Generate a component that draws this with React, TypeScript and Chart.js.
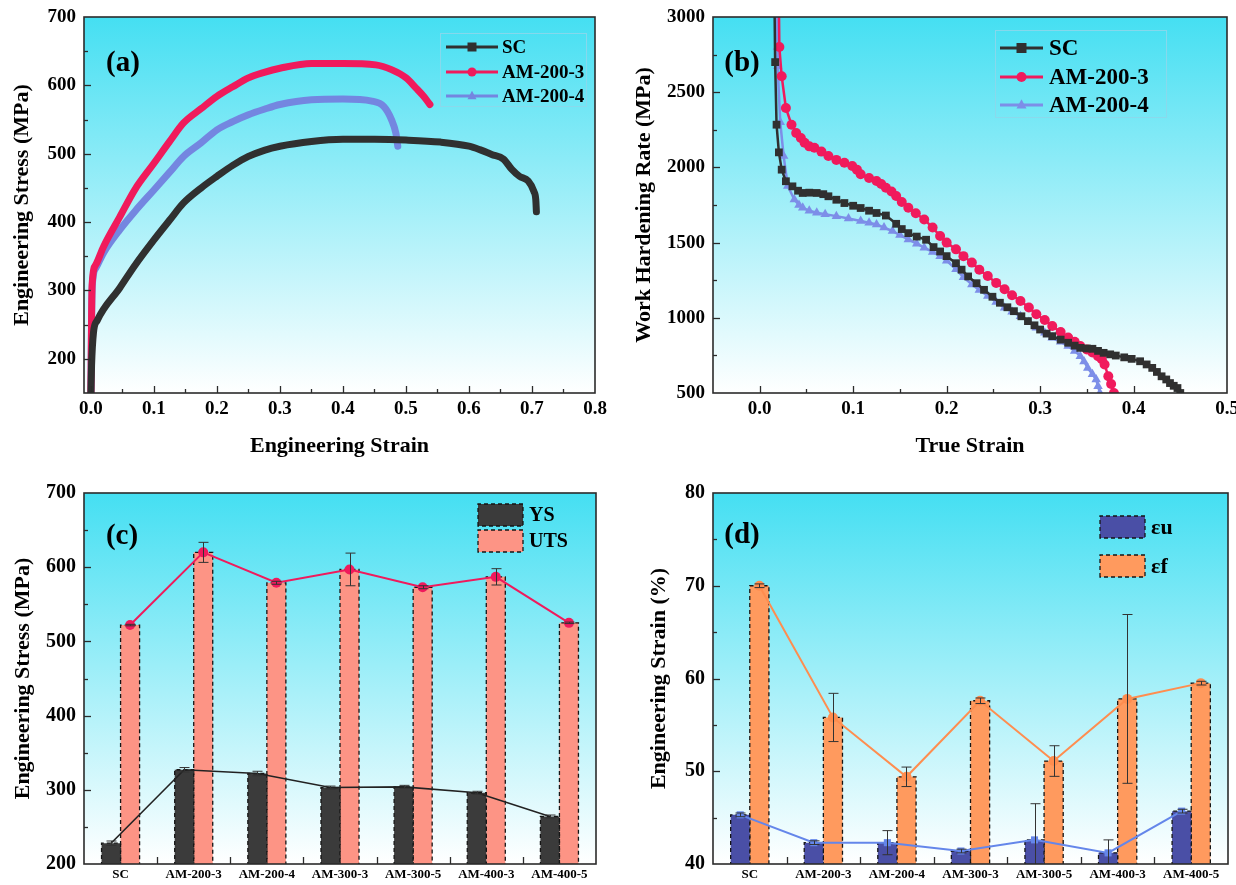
import React, { useEffect, useRef } from 'react';
import { Chart, registerables } from 'chart.js';

Chart.register(...registerables);

const SERIF = "'Liberation Serif', 'Times New Roman', serif";

type Pt = [number, number];

// ---------- (a) engineering stress–strain curves: [strain, stress (MPa)] ----------
const scCurveA: Pt[] = [
  [0.0, 150], [0.001, 190], [0.004, 238], [0.01, 256], [0.046, 304], [0.07, 337],
  [0.1, 374], [0.125, 403], [0.147, 428], [0.175, 450], [0.2, 467], [0.225, 483], [0.25, 496],
  [0.275, 505], [0.3, 511], [0.35, 518], [0.4, 521], [0.45, 521], [0.5, 520], [0.555, 517],
  [0.6, 511], [0.617, 506], [0.636, 499], [0.655, 492], [0.668, 477], [0.68, 467], [0.694, 460],
  [0.703, 445], [0.706, 433], [0.707, 415],
];
const am2003CurveA: Pt[] = [
  [0.0, 150], [0.001, 260], [0.002, 310], [0.008, 338], [0.02, 364], [0.046, 408], [0.07, 448],
  [0.1, 486], [0.125, 518], [0.147, 545], [0.175, 566], [0.2, 584], [0.225, 598], [0.25, 611],
  [0.275, 619], [0.3, 625], [0.35, 632], [0.4, 632], [0.452, 630], [0.477, 623], [0.5, 611],
  [0.516, 596], [0.528, 584], [0.538, 572],
];
const am2004CurveA: Pt[] = [
  [0.0, 150], [0.001, 255], [0.002, 305], [0.008, 333], [0.02, 355], [0.046, 389], [0.07, 416],
  [0.1, 447], [0.125, 473], [0.147, 496], [0.175, 516], [0.2, 535], [0.225, 547], [0.25, 557],
  [0.275, 565], [0.3, 572], [0.35, 579], [0.4, 580], [0.446, 577], [0.465, 569], [0.477, 550],
  [0.484, 530], [0.487, 511],
];
const strainTicksA = [0, 0.1, 0.2, 0.3, 0.4, 0.5, 0.6, 0.7, 0.8];
const stressTicksA = [200, 300, 400, 500, 600, 700];

// ---------- (b) work hardening rate: [true strain, rate (MPa)] ----------
const scCurveB: Pt[] = [
  [0.0158, 3100], [0.0165, 2700], [0.018, 2284], [0.0205, 2100], [0.0235, 1985], [0.028, 1908],
  [0.035, 1874], [0.041, 1845], [0.046, 1830], [0.053, 1832], [0.061, 1830], [0.068, 1822],
  [0.0735, 1808], [0.082, 1785], [0.0906, 1763], [0.1, 1745], [0.108, 1730], [0.117, 1712],
  [0.125, 1697], [0.135, 1680], [0.146, 1625], [0.152, 1590], [0.159, 1563], [0.168, 1540],
  [0.178, 1519], [0.186, 1470], [0.193, 1441], [0.2, 1410], [0.21, 1363], [0.216, 1320],
  [0.223, 1275], [0.232, 1230], [0.24, 1186], [0.249, 1140], [0.257, 1100], [0.265, 1070],
  [0.272, 1044], [0.28, 1010], [0.287, 978], [0.294, 950], [0.3, 922], [0.307, 895],
  [0.313, 878], [0.322, 855], [0.33, 834], [0.337, 815], [0.343, 800], [0.35, 796],
  [0.356, 794], [0.362, 780], [0.368, 767], [0.375, 757], [0.381, 749], [0.39, 737],
  [0.398, 727], [0.407, 711], [0.414, 690], [0.42, 667], [0.425, 640], [0.43, 611],
  [0.435, 590], [0.439, 566], [0.443, 548], [0.447, 533], [0.45, 500],
];
const am2003CurveB: Pt[] = [
  [0.0205, 3100], [0.021, 2800], [0.0235, 2606], [0.028, 2395], [0.034, 2284], [0.039, 2229],
  [0.044, 2195], [0.048, 2164], [0.053, 2140], [0.0585, 2131], [0.066, 2105], [0.0735, 2076],
  [0.082, 2050], [0.0906, 2031], [0.099, 2009], [0.104, 1985], [0.108, 1954], [0.117, 1930],
  [0.125, 1909], [0.13, 1890], [0.135, 1865], [0.141, 1840], [0.146, 1810], [0.152, 1770],
  [0.159, 1732], [0.167, 1695], [0.176, 1654], [0.185, 1600], [0.193, 1544], [0.2, 1500],
  [0.21, 1455], [0.218, 1410], [0.227, 1367], [0.235, 1320], [0.244, 1278], [0.253, 1232],
  [0.262, 1190], [0.27, 1150], [0.279, 1112], [0.288, 1068], [0.296, 1024], [0.305, 985],
  [0.313, 946], [0.322, 905], [0.33, 869], [0.337, 840], [0.343, 813], [0.35, 790],
  [0.356, 769], [0.362, 745], [0.366, 725], [0.369, 690], [0.373, 611], [0.376, 560],
  [0.379, 500],
];
const am2004CurveB: Pt[] = [
  [0.0185, 3100], [0.019, 2800], [0.0192, 2672], [0.022, 2300], [0.0256, 2075], [0.03, 1876],
  [0.037, 1787], [0.042, 1750], [0.046, 1731], [0.053, 1712], [0.061, 1698], [0.07, 1688],
  [0.082, 1676], [0.095, 1660], [0.108, 1643], [0.117, 1632], [0.125, 1621], [0.133, 1600],
  [0.142, 1577], [0.15, 1550], [0.159, 1521], [0.168, 1493], [0.176, 1466], [0.185, 1438],
  [0.193, 1410], [0.2, 1380], [0.21, 1322], [0.218, 1270], [0.227, 1222], [0.235, 1185],
  [0.244, 1145], [0.253, 1105], [0.262, 1067], [0.27, 1040], [0.279, 1011], [0.288, 972],
  [0.296, 934], [0.305, 900], [0.313, 867], [0.322, 840], [0.33, 812], [0.337, 780],
  [0.343, 745], [0.347, 710], [0.351, 667], [0.356, 625], [0.36, 589], [0.362, 545],
  [0.364, 500],
];
const strainTicksB = [0, 0.1, 0.2, 0.3, 0.4, 0.5];
const rateTicksB = [500, 1000, 1500, 2000, 2500, 3000];

// ---------- (c) yield and ultimate tensile strength ----------
const specimens = ['SC', 'AM-200-3', 'AM-200-4', 'AM-300-3', 'AM-300-5', 'AM-400-3', 'AM-400-5'];
const ysValues = [228, 327, 322, 303, 304, 296, 264];
const ysErrors = [3, 3, 3, 2, 2, 2, 2];
const utsValues = [522, 620, 579, 597, 573, 587, 525];
const utsErrors = [1, 13.5, 2, 22, 2, 11, 1];
const stressTicksC = [200, 300, 400, 500, 600, 700];

// ---------- (d) uniform and fracture elongation (%) ----------
const uniformStrain = [45.3, 42.3, 42.3, 41.4, 42.6, 41.2, 45.7];
const uniformErrors = [0.2, 0.2, 1.3, 0.2, 3.9, 1.4, 0.2];
const fractureStrain = [70.0, 55.8, 49.4, 57.6, 51.1, 57.8, 59.5];
const fractureErrors = [0.2, 2.6, 1.05, 0.3, 1.65, 9.1, 0.2];
const strainTicksD = [40, 50, 60, 70, 80];

// ---------- styling ----------
const C = {
  sc: '#303030',
  pink: '#f01a5c',
  lavender: '#7486e0',
  lavenderB: '#7d8ee8',
  ysBar: '#3b3b3b',
  utsBar: '#fd9485',
  euBar: '#4a4fa6',
  efBar: '#ff9a5e',
  euLine: '#6486ea',
  efLine: '#ff8d4f',
  frame: '#2b2b2b',
  text: '#000000',
};
const CATEGORY_SHARE = 0.52; // fraction of each category taken by the bar pair
const BAR_SHIFT = CATEGORY_SHARE / 4; // centre of each bar relative to its category centre

const font = (size: number) => ({ family: SERIF, size, weight: 'bold' as const });
const midpoints = (v: number[]) => v.slice(1).map((x, i) => (x + v[i]) / 2);
const toXY = (pts: Pt[]) => pts.map(([x, y]) => ({ x, y }));

const fixWidth = (w: number) => (s: any) => {
  s.width = w;
  s.paddingTop = 0; s.paddingBottom = 0; s.paddingLeft = 0; s.paddingRight = 0;
};
const fixHeight = (h: number) => (s: any) => {
  s.height = h;
  s.paddingTop = 0; s.paddingBottom = 0; s.paddingLeft = 0; s.paddingRight = 0;
};
const setTicks = (values: number[]) => (s: any) => {
  s.ticks = values.map((v) => ({ value: v }));
};

function drawMarker(ctx: CanvasRenderingContext2D, style: string, x: number, y: number, r: number, color: string) {
  ctx.fillStyle = color;
  ctx.beginPath();
  if (style === 'rect') {
    ctx.rect(x - r, y - r, 2 * r, 2 * r);
  } else if (style === 'triangle') {
    ctx.moveTo(x, y - r * 1.15);
    ctx.lineTo(x + r, y + r * 0.7);
    ctx.lineTo(x - r, y + r * 0.7);
    ctx.closePath();
  } else {
    ctx.arc(x, y, r, 0, Math.PI * 2);
  }
  ctx.fill();
}

function strokeDashedBar(ctx: CanvasRenderingContext2D, l: number, t: number, r: number, b: number, closed: boolean) {
  ctx.save();
  ctx.setLineDash([4, 3]);
  ctx.lineWidth = 1.3;
  ctx.strokeStyle = '#151515';
  ctx.beginPath();
  ctx.moveTo(l, b);
  ctx.lineTo(l, t);
  ctx.lineTo(r, t);
  ctx.lineTo(r, b);
  if (closed) ctx.closePath();
  ctx.stroke();
  ctx.restore();
}

// Gradient plot background, dashed bar outlines, error bars, inward ticks, panel tag and legend
const panelPlugin = {
  id: 'panel',
  beforeDraw(chart: any) {
    const { ctx, chartArea } = chart;
    const { left, top, right, bottom } = chartArea;
    const g = ctx.createLinearGradient(0, top, 0, bottom);
    g.addColorStop(0, '#45dff2');
    g.addColorStop(1, '#ffffff');
    ctx.save();
    ctx.fillStyle = g;
    ctx.fillRect(left, top, right - left, bottom - top);
    ctx.restore();
  },
  afterDatasetDraw(chart: any, args: any) {
    const ds = chart.data.datasets[args.index];
    if (args.meta.type !== 'bar' || !ds.dashedBorder) return;
    const { ctx, chartArea } = chart;
    ctx.save();
    ctx.beginPath();
    ctx.rect(chartArea.left, chartArea.top, chartArea.right - chartArea.left, chartArea.bottom - chartArea.top);
    ctx.clip();
    for (const el of args.meta.data) {
      const { x, y, width } = el.getProps(['x', 'y', 'width'], true);
      strokeDashedBar(ctx, x - width / 2, y, x + width / 2, chartArea.bottom + 2, false);
    }
    ctx.restore();
  },
  afterDatasetsDraw(chart: any, _args: any, opts: any) {
    if (!opts.errorBars) return;
    const { ctx, chartArea } = chart;
    const yScale = chart.scales.y;
    ctx.save();
    ctx.beginPath();
    ctx.rect(chartArea.left, chartArea.top, chartArea.right - chartArea.left, chartArea.bottom - chartArea.top);
    ctx.clip();
    ctx.strokeStyle = '#333333';
    ctx.lineWidth = 1;
    for (const eb of opts.errorBars) {
      const meta = chart.getDatasetMeta(eb.dataset);
      meta.data.forEach((el: any, i: number) => {
        const v = eb.values[i];
        const e = eb.errors[i];
        const x = Math.round(el.x) + 0.5;
        const hi = yScale.getPixelForValue(v + e);
        const lo = yScale.getPixelForValue(v - e);
        ctx.beginPath();
        ctx.moveTo(x, hi); ctx.lineTo(x, lo);
        ctx.moveTo(x - 5, hi); ctx.lineTo(x + 5, hi);
        ctx.moveTo(x - 5, lo); ctx.lineTo(x + 5, lo);
        ctx.stroke();
      });
    }
    ctx.restore();
  },
  afterDraw(chart: any, _args: any, opts: any) {
    const { ctx, chartArea } = chart;
    const { left, top, right, bottom } = chartArea;
    ctx.save();
    // frame
    ctx.strokeStyle = C.frame;
    ctx.lineWidth = 1.6;
    ctx.strokeRect(left, top, right - left, bottom - top);
    // inward ticks
    ctx.lineWidth = 1.3;
    const xs = chart.scales.x;
    const ys = chart.scales.y;
    const tickX = (vals: number[], len: number) => vals.forEach((v) => {
      const px = Math.round(xs.getPixelForValue(v)) + 0.5;
      if (px <= left + 1 || px >= right - 1) return;
      ctx.beginPath(); ctx.moveTo(px, bottom); ctx.lineTo(px, bottom - len); ctx.stroke();
    });
    const tickY = (vals: number[], len: number) => vals.forEach((v) => {
      const py = Math.round(ys.getPixelForValue(v)) + 0.5;
      if (py <= top + 1 || py >= bottom - 1) return;
      ctx.beginPath(); ctx.moveTo(left, py); ctx.lineTo(left + len, py); ctx.stroke();
    });
    tickX(opts.xMajor || [], 7);
    tickX(opts.xMinor || [], 4);
    tickY(opts.yMajor || [], 7);
    tickY(opts.yMinor || [], 4);

    // panel tag
    ctx.fillStyle = C.text;
    ctx.font = `bold 29px ${SERIF}`;
    ctx.textAlign = 'center';
    ctx.textBaseline = 'middle';
    ctx.fillText(opts.tag, opts.tagX, opts.tagY);

    // legend
    const lg = opts.legend;
    if (lg) {
      if (lg.frame) {
        const [fx, fy, fw, fh] = lg.frame;
        ctx.strokeStyle = 'rgba(140, 215, 235, 0.9)';
        ctx.lineWidth = 1;
        ctx.strokeRect(fx + 0.5, fy + 0.5, fw, fh);
      }
      lg.items.forEach((di: number, k: number) => {
        const ds = chart.data.datasets[di];
        const y = lg.rows[k];
        if (lg.kind === 'line') {
          ctx.strokeStyle = ds.borderColor;
          ctx.lineWidth = 3;
          ctx.beginPath(); ctx.moveTo(lg.x0, y); ctx.lineTo(lg.x1, y); ctx.stroke();
          drawMarker(ctx, ds.pointStyle || 'circle', (lg.x0 + lg.x1) / 2, y, lg.markerR, ds.borderColor);
        } else {
          const h = lg.boxH;
          ctx.fillStyle = ds.backgroundColor;
          ctx.fillRect(lg.x0, y - h / 2, lg.x1 - lg.x0, h);
          strokeDashedBar(ctx, lg.x0, y - h / 2, lg.x1, y + h / 2, true);
        }
        ctx.fillStyle = C.text;
        ctx.font = `bold ${lg.fontSize}px ${SERIF}`;
        ctx.textAlign = 'left';
        ctx.textBaseline = 'middle';
        ctx.fillText(ds.label, lg.textX, y + 1);
      });
    }
    ctx.restore();
  },
};

interface Geom { w: number; h: number; left: number; right: number; top: number; bottom: number }

function baseOptions(g: Geom) {
  return {
    responsive: false,
    animation: false,
    events: [],
    layout: { padding: { left: 0, top: g.top, right: g.w - g.right, bottom: 0 } },
  };
}

function axisCommon() {
  return {
    grid: { display: false, drawTicks: false },
    border: { display: false },
  };
}

function curveDataset(label: string, pts: Pt[], color: string, style: string, width: number, radius: number, smooth: boolean) {
  return {
    label,
    data: toXY(pts),
    borderColor: color,
    backgroundColor: color,
    pointBackgroundColor: color,
    pointBorderColor: color,
    pointBorderWidth: 0,
    pointStyle: style,
    pointRadius: radius,
    borderWidth: width,
    borderJoinStyle: 'round',
    borderCapStyle: 'round',
    cubicInterpolationMode: smooth ? 'monotone' : 'default',
    clip: 0,
  };
}

const plainNumber = (v: any) => String(Math.round(Number(v)));

function configA() {
  const g: Geom = { w: 618, h: 460, left: 84, right: 595, top: 17, bottom: 393 };
  return {
    type: 'line',
    data: {
      datasets: [
        curveDataset('SC', scCurveA, C.sc, 'rect', 7, 0, true),
        curveDataset('AM-200-3', am2003CurveA, C.pink, 'circle', 7, 0, true),
        curveDataset('AM-200-4', am2004CurveA, C.lavender, 'triangle', 7, 0, true),
      ],
    },
    options: {
      ...baseOptions(g),
      scales: {
        x: {
          ...axisCommon(), type: 'linear', min: -0.011, max: 0.8, offset: false, bounds: 'data',
          afterBuildTicks: setTicks(strainTicksA), afterFit: fixHeight(g.h - g.bottom),
          ticks: { font: font(19), color: C.text, padding: 5, maxRotation: 0, autoSkip: false, callback: (v: any) => Number(v).toFixed(1) },
          title: { display: true, text: 'Engineering Strain', font: font(22), color: C.text, padding: { top: 0, bottom: 0 } },
        },
        y: {
          ...axisCommon(), type: 'linear', min: 150, max: 700,
          afterBuildTicks: setTicks(stressTicksA), afterFit: fixWidth(g.left),
          ticks: { font: font(19), color: C.text, padding: 8, callback: plainNumber },
          title: { display: true, text: 'Engineering Stress (MPa)', font: font(22), color: C.text, padding: { top: 9, bottom: 0 } },
        },
      },
      plugins: {
        legend: { display: false },
        tooltip: { enabled: false },
        panel: {
          tag: '(a)', tagX: 123, tagY: 64,
          xMajor: strainTicksA, xMinor: midpoints(strainTicksA),
          yMajor: stressTicksA, yMinor: midpoints(stressTicksA),
          legend: { kind: 'line', items: [0, 1, 2], rows: [47, 72, 96], x0: 446, x1: 498, textX: 502, fontSize: 19, markerR: 4.5, frame: [440, 33, 146, 73] },
        },
      },
    },
    plugins: [panelPlugin],
  };
}

function configB() {
  const g: Geom = { w: 618, h: 460, left: 95, right: 609, top: 17, bottom: 393 };
  return {
    type: 'line',
    data: {
      datasets: [
        curveDataset('SC', scCurveB, C.sc, 'rect', 2.5, 5.5, false),
        curveDataset('AM-200-3', am2003CurveB, C.pink, 'circle', 2.5, 5, false),
        curveDataset('AM-200-4', am2004CurveB, C.lavenderB, 'triangle', 2.5, 5.5, false),
      ],
    },
    options: {
      ...baseOptions(g),
      scales: {
        x: {
          ...axisCommon(), type: 'linear', min: -0.05, max: 0.5, offset: false, bounds: 'data',
          afterBuildTicks: setTicks(strainTicksB), afterFit: fixHeight(g.h - g.bottom),
          ticks: { font: font(19), color: C.text, padding: 5, maxRotation: 0, autoSkip: false, callback: (v: any) => Number(v).toFixed(1) },
          title: { display: true, text: 'True Strain', font: font(22), color: C.text, padding: { top: 0, bottom: 0 } },
        },
        y: {
          ...axisCommon(), type: 'linear', min: 500, max: 3000,
          afterBuildTicks: setTicks(rateTicksB), afterFit: fixWidth(g.left),
          ticks: { font: font(19), color: C.text, padding: 8, callback: plainNumber },
          title: { display: true, text: 'Work Hardening Rate (MPa)', font: font(22), color: C.text, padding: { top: 13, bottom: 0 } },
        },
      },
      plugins: {
        legend: { display: false },
        tooltip: { enabled: false },
        panel: {
          tag: '(b)', tagX: 124, tagY: 64,
          xMajor: strainTicksB, xMinor: midpoints(strainTicksB),
          yMajor: rateTicksB, yMinor: midpoints(rateTicksB),
          legend: { kind: 'line', items: [0, 1, 2], rows: [48, 77, 105], x0: 382, x1: 425, textX: 431, fontSize: 23, markerR: 5, frame: [377, 30, 171, 87] },
        },
      },
    },
    plugins: [panelPlugin],
  };
}

function barPanelConfig(opts: {
  lowValues: number[]; lowErrors: number[]; lowLabel: string; lowBar: string; lowLine: string; lowStyle: string; lowRadius: number; lowWidth: number;
  highValues: number[]; highErrors: number[]; highLabel: string; highBar: string; highLine: string;
  yMin: number; yMax: number; yTicks: number[]; yTitle: string; titlePad: number;
  geom: Geom; tag: string; tagX: number; tagY: number; legendRows: number[]; legendX: [number, number]; legendText: number;
}) {
  const g = opts.geom;
  const n = specimens.length;
  const positions = specimens.map((_, i) => i);
  return {
    type: 'bar',
    data: {
      datasets: [
        {
          type: 'line', label: opts.lowLabel, order: 0,
          data: opts.lowValues.map((v, i) => ({ x: i - BAR_SHIFT, y: v })),
          borderColor: opts.lowLine, borderWidth: opts.lowWidth,
          pointStyle: opts.lowStyle, pointRadius: opts.lowRadius, pointBorderWidth: 0,
          pointBackgroundColor: opts.lowLine, pointBorderColor: opts.lowLine,
        },
        {
          type: 'line', label: opts.highLabel, order: 0,
          data: opts.highValues.map((v, i) => ({ x: i + BAR_SHIFT, y: v })),
          borderColor: opts.highLine, borderWidth: 2,
          pointStyle: 'circle', pointRadius: 5, pointBorderWidth: 0,
          pointBackgroundColor: opts.highLine, pointBorderColor: opts.highLine,
        },
        {
          type: 'bar', label: opts.lowLabel, order: 1,
          data: opts.lowValues.map((v, i) => ({ x: i, y: v })),
          backgroundColor: opts.lowBar, borderWidth: 0, categoryPercentage: CATEGORY_SHARE, barPercentage: 1, dashedBorder: true,
        },
        {
          type: 'bar', label: opts.highLabel, order: 1,
          data: opts.highValues.map((v, i) => ({ x: i, y: v })),
          backgroundColor: opts.highBar, borderWidth: 0, categoryPercentage: CATEGORY_SHARE, barPercentage: 1, dashedBorder: true,
        },
      ],
    },
    options: {
      ...baseOptions(g),
      scales: {
        x: {
          ...axisCommon(), type: 'linear', min: -0.5, max: n - 0.5, offset: false, bounds: 'data', grace: 0,
          afterBuildTicks: setTicks(positions), afterFit: fixHeight(g.h - g.bottom),
          ticks: { font: font(13), color: C.text, padding: 3, maxRotation: 0, autoSkip: false, callback: (v: any) => specimens[Math.round(Number(v))] },
        },
        y: {
          ...axisCommon(), type: 'linear', min: opts.yMin, max: opts.yMax, beginAtZero: false,
          afterBuildTicks: setTicks(opts.yTicks), afterFit: fixWidth(g.left),
          ticks: { font: font(20), color: C.text, padding: 8, callback: plainNumber },
          title: { display: true, text: opts.yTitle, font: font(22), color: C.text, padding: { top: opts.titlePad, bottom: 0 } },
        },
      },
      plugins: {
        legend: { display: false },
        tooltip: { enabled: false },
        panel: {
          tag: opts.tag, tagX: opts.tagX, tagY: opts.tagY,
          xMajor: midpoints(positions),
          yMajor: opts.yTicks, yMinor: midpoints(opts.yTicks),
          errorBars: [
            { dataset: 2, values: opts.lowValues, errors: opts.lowErrors },
            { dataset: 3, values: opts.highValues, errors: opts.highErrors },
          ],
          legend: { kind: 'box', items: [2, 3], rows: opts.legendRows, x0: opts.legendX[0], x1: opts.legendX[1], textX: opts.legendX[1] + 6, fontSize: opts.legendText, boxH: 22 },
        },
      },
    },
    plugins: [panelPlugin],
  };
}

function configC() {
  return barPanelConfig({
    lowValues: ysValues, lowErrors: ysErrors, lowLabel: 'YS', lowBar: C.ysBar, lowLine: '#222222', lowStyle: 'rect', lowRadius: 0, lowWidth: 1.6,
    highValues: utsValues, highErrors: utsErrors, highLabel: 'UTS', highBar: C.utsBar, highLine: C.pink,
    yMin: 200, yMax: 700, yTicks: stressTicksC, yTitle: 'Engineering Stress (MPa)', titlePad: 10,
    geom: { w: 618, h: 425, left: 84, right: 596, top: 33, bottom: 404 },
    tag: '(c)', tagX: 122, tagY: 77, legendRows: [55, 81], legendX: [478, 523], legendText: 20,
  });
}

function configD() {
  return barPanelConfig({
    lowValues: uniformStrain, lowErrors: uniformErrors, lowLabel: 'εu', lowBar: C.euBar, lowLine: C.euLine, lowStyle: 'rect', lowRadius: 5, lowWidth: 2,
    highValues: fractureStrain, highErrors: fractureErrors, highLabel: 'εf', highBar: C.efBar, highLine: C.efLine,
    yMin: 40, yMax: 80, yTicks: strainTicksD, yTitle: 'Engineering Strain (%)', titlePad: 28,
    geom: { w: 618, h: 425, left: 95, right: 610, top: 33, bottom: 404 },
    tag: '(d)', tagX: 124, tagY: 76, legendRows: [67, 106], legendX: [482, 527], legendText: 22,
  });
}

export default function App() {
  const refA = useRef<HTMLCanvasElement>(null);
  const refB = useRef<HTMLCanvasElement>(null);
  const refC = useRef<HTMLCanvasElement>(null);
  const refD = useRef<HTMLCanvasElement>(null);

  useEffect(() => {
    const charts = [
      new Chart(refA.current as HTMLCanvasElement, configA() as any),
      new Chart(refB.current as HTMLCanvasElement, configB() as any),
      new Chart(refC.current as HTMLCanvasElement, configC() as any),
      new Chart(refD.current as HTMLCanvasElement, configD() as any),
    ];
    return () => charts.forEach((c) => c.destroy());
  }, []);

  return (
    <div style={{ position: 'absolute', left: 0, top: 0, width: 1236, height: 885, background: '#ffffff' }}>
      <canvas ref={refA} width={618} height={460} style={{ position: 'absolute', left: 0, top: 0 }} />
      <canvas ref={refB} width={618} height={460} style={{ position: 'absolute', left: 618, top: 0 }} />
      <canvas ref={refC} width={618} height={425} style={{ position: 'absolute', left: 0, top: 460 }} />
      <canvas ref={refD} width={618} height={425} style={{ position: 'absolute', left: 618, top: 460 }} />
    </div>
  );
}
